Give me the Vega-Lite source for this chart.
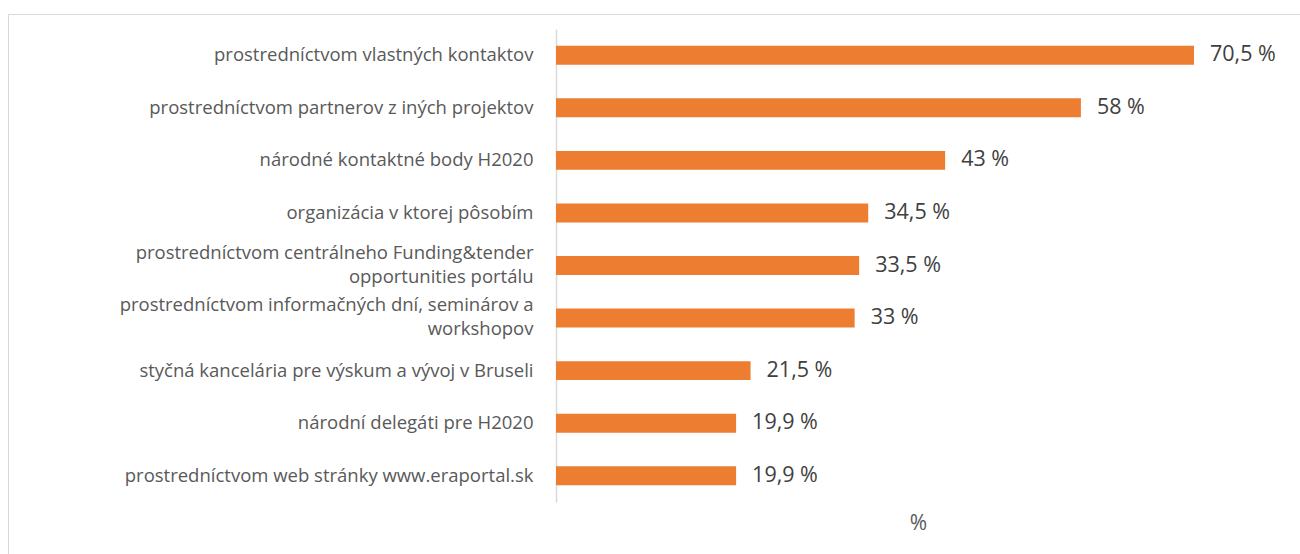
{
  "$schema": "https://vega.github.io/schema/vega-lite/v6.json",
  "width": 1300,
  "height": 560,
  "autosize": {"type": "none"},
  "padding": {"left": 8, "top": 14, "right": 0, "bottom": 0},
  "background": "white",
  "config": {
    "view": {"stroke": "#d9d9d9", "strokeWidth": 1},
    "font": "Open Sans"
  },
  "data": {
    "values": [
      {"kanal": "prostredníctvom vlastných kontaktov", "podiel": 70.5},
      {"kanal": "prostredníctvom partnerov z iných projektov", "podiel": 58},
      {"kanal": "národné kontaktné body H2020", "podiel": 43},
      {"kanal": "organizácia v ktorej pôsobím", "podiel": 34.5},
      {"kanal": "prostredníctvom centrálneho Funding&tender|opportunities portálu", "podiel": 33.5},
      {"kanal": "prostredníctvom informačných dní, seminárov a|workshopov", "podiel": 33},
      {"kanal": "styčná kancelária pre výskum a vývoj v Bruseli", "podiel": 21.5},
      {"kanal": "národní delegáti pre H2020", "podiel": 19.9},
      {"kanal": "prostredníctvom web stránky www.eraportal.sk", "podiel": 19.9}
    ]
  },
  "transform": [
    {"calculate": "replace(format(datum.podiel, '.1~f'), '.', ',') + ' %'", "as": "popis"}
  ],
  "encoding": {
    "y": {
      "field": "kanal",
      "type": "nominal",
      "sort": null,
      "scale": {"range": [15, 488], "paddingInner": 0.64, "paddingOuter": 0.32},
      "axis": {
        "title": null,
        "offset": -548,
        "domainColor": "#d9d9d9",
        "domainWidth": 1.5,
        "ticks": false,
        "grid": false,
        "labelPadding": 23,
        "labelFontSize": 18.5,
        "labelColor": "#595959",
        "labelLineHeight": 24,
        "labelLimit": 600,
        "labelBaseline": {"condition": {"test": "indexof(datum.value, '|') >= 0", "value": "line-bottom"}, "value": "middle"},
        "labelExpr": "split(datum.value, '|')"
      }
    },
    "x": {
      "field": "podiel",
      "type": "quantitative",
      "scale": {"domain": [0, 80], "range": [548, 1272], "nice": false, "zero": true},
      "axis": {
        "title": "%",
        "labels": false,
        "ticks": false,
        "domain": false,
        "grid": false,
        "titleY": -51,
        "titleBaseline": "middle",
        "titleFontSize": 21,
        "titleFontWeight": "normal",
        "titleColor": "#595959"
      }
    }
  },
  "layer": [
    {"mark": {"type": "bar", "color": "#ED7D31"}},
    {
      "mark": {"type": "text", "align": "left", "baseline": "middle", "dx": 16, "fontSize": 21.5, "color": "#404040"},
      "encoding": {"text": {"field": "popis", "type": "nominal"}}
    }
  ]
}
